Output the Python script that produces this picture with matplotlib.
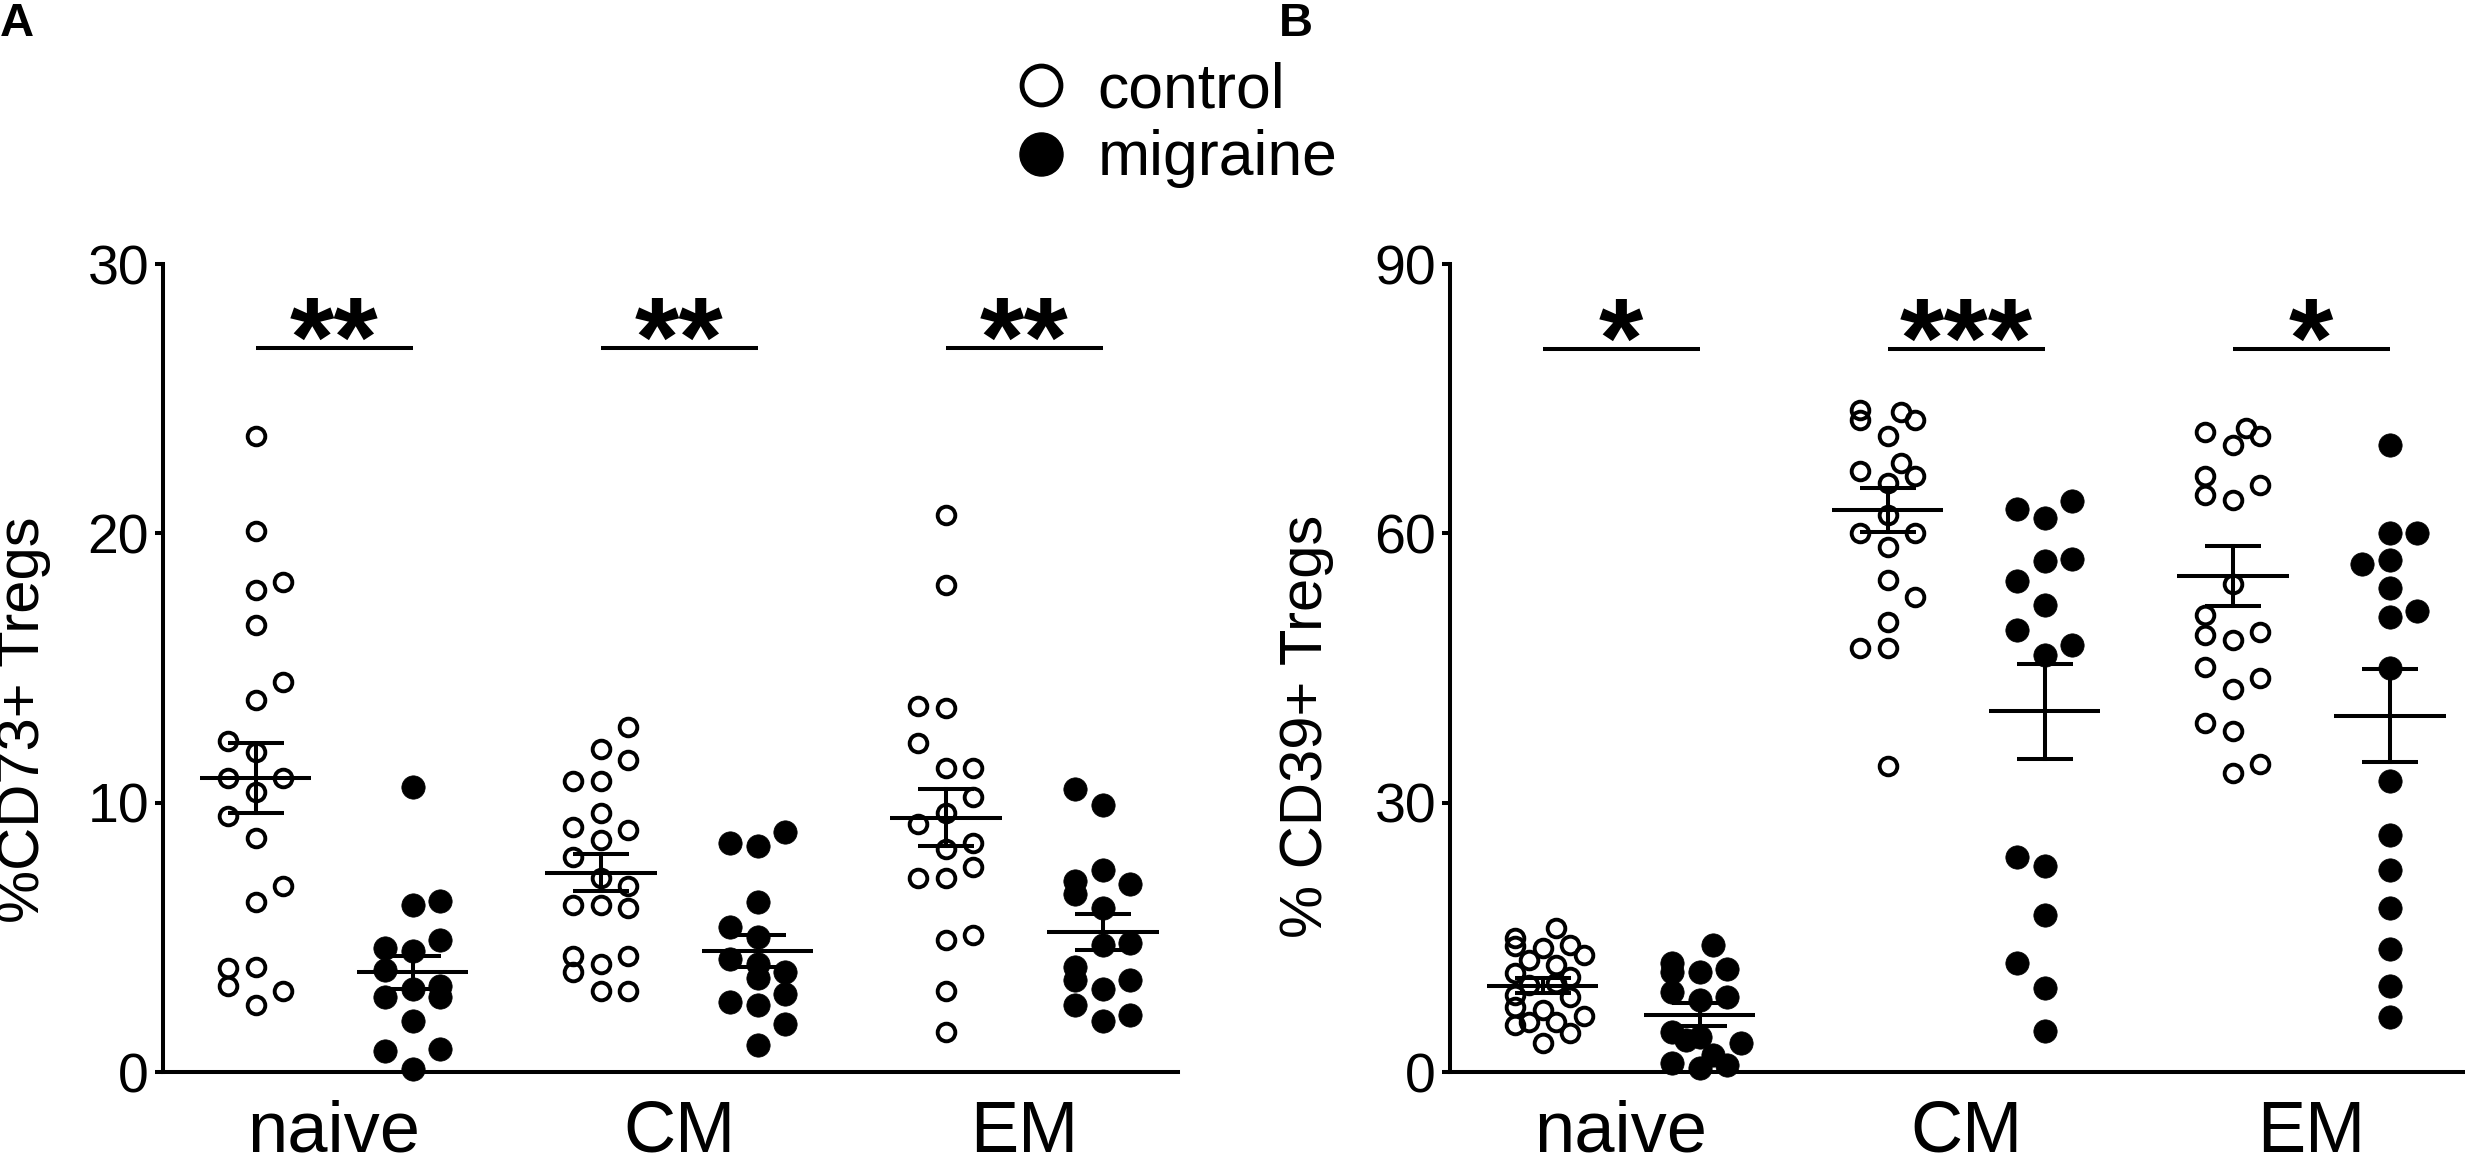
import numpy as np
import matplotlib
matplotlib.use('Agg')
import matplotlib.pyplot as plt
from matplotlib.lines import Line2D

plt.rcParams['font.family'] = ['Liberation Sans', 'DejaVu Sans']

groups = ['naive', 'CM', 'EM']

# panel A: %CD73+ Tregs  (dx = small horizontal jitter steps)
cd73_naive_ctrl = [23.6, 20.1, 17.9, 18.2, 16.6, 14.5, 13.8, 12.3, 11.9, 10.9, 10.9,
                   10.4, 9.5, 8.7, 6.9, 6.3, 3.85, 3.2, 3.9, 2.5, 3.0]
cd73_naive_ctrl_dx = [0, 0, 0, 2, 0, 2, 0, -2, 0, -2, 2, 0, -2, 0, 2, 0, -2, -2, 0, 0, 2]
cd73_naive_mig = [10.6, 6.2, 6.35, 4.9, 4.6, 4.5, 3.8, 3.1, 3.2, 2.8, 2.8, 1.9, 0.8, 0.85, 0.1]
cd73_naive_mig_dx = [0, 0, 2, 2, -2, 0, -2, 0, 2, -2, 2, 0, -2, 2, 0]
cd73_cm_ctrl = [12.8, 12.0, 11.6, 10.8, 10.8, 9.6, 9.0, 9.1, 8.6, 8.0, 7.2, 6.9, 6.2, 6.2,
                6.1, 4.3, 4.0, 4.3, 3.7, 3.0, 3.0]
cd73_cm_ctrl_dx = [2, 0, 2, -2, 0, 0, 2, -2, 0, -2, 0, 2, -2, 0, 2, -2, 0, 2, -2, 0, 2]
cd73_cm_mig = [8.9, 8.5, 8.4, 6.3, 5.4, 5.0, 4.2, 4.0, 3.7, 3.5, 2.9, 2.6, 2.5, 1.8, 1.0]
cd73_cm_mig_dx = [2, -2, 0, 0, -2, 0, -2, 0, 2, 0, 2, -2, 0, 2, 0]
cd73_em_ctrl = [20.7, 18.1, 13.6, 13.5, 12.2, 11.3, 11.3, 10.2, 9.6, 9.2, 8.5, 8.3, 7.6,
                7.2, 7.2, 5.1, 4.9, 3.0, 1.5]
cd73_em_ctrl_dx = [0, 0, -2, 0, -2, 0, 2, 2, 0, -2, 2, 0, 2, -2, 0, 2, 0, 0, 0]
cd73_em_mig = [10.5, 9.9, 7.5, 7.1, 7.0, 6.6, 6.1, 4.7, 4.8, 3.9, 3.4, 3.4, 3.1, 2.5, 2.1, 1.9]
cd73_em_mig_dx = [-2, 0, 0, -2, 2, -2, 0, 0, 2, -2, -2, 2, 0, -2, 2, 0]
cd73_mean_ctrl = [10.9, 7.4, 9.45]
cd73_sem_ctrl = [1.3, 0.68, 1.05]
cd73_mean_mig = [3.7, 4.5, 5.2]
cd73_sem_mig = [0.6, 0.6, 0.65]
cd73_stars = ['**', '**', '**']

# panel B: % CD39+ Tregs
cd39_naive_ctrl = [14.9, 14.0, 16.0, 13.8, 14.1, 13.0, 12.5, 11.9, 11.0, 10.6, 9.7, 9.9,
                   8.6, 8.4, 7.3, 6.9, 5.6, 5.2, 5.6, 6.2, 4.3, 3.2]
cd39_naive_ctrl_dx = [-2, -2, 1, 0, 2, 3, -1, 1, -2, 2, -1, 1, -2, 2, -2, 0, -1, -2, 1, 3, 2, 0]
cd39_naive_mig = [14.1, 12.1, 11.2, 11.2, 11.5, 8.9, 8.0, 8.4, 4.5, 3.9, 3.6, 3.2, 1.0, 1.9, 0.5, 0.8]
cd39_naive_mig_dx = [1, -2, -2, 0, 2, -2, 0, 2, -2, 0, -1, 3, -2, 1, 0, 2]
cd39_cm_ctrl = [73.7, 72.6, 66.9, 60.0, 47.2, 70.9, 65.6, 62.0, 58.5, 54.8, 50.1, 47.2,
                34.1, 73.5, 72.6, 67.8, 66.4, 60.0, 52.9]
cd39_cm_ctrl_dx = [-2, -2, -2, -2, -2, 0, 0, 0, 0, 0, 0, 0, 0, 1, 2, 1, 2, 2, 2]
cd39_cm_mig = [62.7, 61.7, 63.6, 56.9, 57.1, 54.7, 52.0, 49.2, 47.6, 46.4, 23.9, 23.0,
               17.5, 12.2, 9.4, 4.6]
cd39_cm_mig_dx = [-2, 0, 2, 0, 2, -2, 0, -2, 2, 0, -2, 0, 0, -2, 0, 0]
cd39_em_ctrl = [71.3, 71.7, 70.9, 69.8, 66.4, 64.3, 65.4, 63.7, 54.4, 50.9, 48.7, 48.1,
                49.0, 45.1, 42.7, 43.9, 38.9, 38.0, 34.3, 33.3]
cd39_em_ctrl_dx = [-2, 1, 2, 0, -2, -2, 2, 0, 0, -2, -2, 0, 2, -2, 0, 2, -2, 0, 2, 0]
cd39_em_mig = [69.8, 60.0, 60.0, 56.6, 57.0, 53.9, 50.7, 51.3, 45.0, 32.4, 26.4, 22.5,
               18.3, 13.7, 9.6, 6.1]
cd39_em_mig_dx = [0, 0, 2, -2, 0, 0, 0, 2, 0, 0, 0, 0, 0, 0, 0, 0]
cd39_mean_ctrl = [9.6, 62.6, 55.3]
cd39_sem_ctrl = [0.85, 2.5, 3.35]
cd39_mean_mig = [6.4, 40.2, 39.7]
cd39_sem_mig = [1.25, 5.3, 5.2]
cd39_stars = ['*', '***', '*']

OFF = 0.2275     # control / migraine column offset from group centre
STEP = 0.04      # jitter step
MEAN_HW = 0.162
CAP_HW = 0.081
LW = 2.9


def panel(ax, ctrl, ctrl_dx, mig, mig_dx, mean_c, sem_c, mean_m, sem_m,
          stars, ymax, ystep, bar_y, ylabel):
    for g in range(3):
        xc = g - OFF
        xm = g + OFF
        ax.plot(xc + np.array(ctrl_dx[g]) * STEP, ctrl[g], 'o', ms=12.7, mfc='none',
                mec='black', mew=2.8, ls='none', clip_on=False, zorder=2)
        ax.plot(xm + np.array(mig_dx[g]) * STEP, mig[g], 'o', ms=16.8, mfc='black',
                mec='black', mew=0.5, ls='none', clip_on=False, zorder=2)
        for x, m, s in [(xc, mean_c[g], sem_c[g]), (xm, mean_m[g], sem_m[g])]:
            ax.plot([x - MEAN_HW, x + MEAN_HW], [m, m], color='black', lw=LW, zorder=3,
                    solid_capstyle='butt')
            ax.plot([x, x], [m - s, m + s], color='black', lw=LW, zorder=3)
            for yy in (m - s, m + s):
                ax.plot([x - CAP_HW, x + CAP_HW], [yy, yy], color='black', lw=LW,
                        zorder=3, solid_capstyle='butt')
        # significance bar
        ax.plot([xc, xm], [bar_y, bar_y], color='black', lw=LW, solid_capstyle='butt',
                clip_on=False)
        ax.annotate(stars[g], (g, bar_y), xytext=(0, -20), textcoords='offset points',
                    ha='center', va='baseline', fontsize=82, fontweight='bold',
                    annotation_clip=False)

    ax.set_xlim(-0.496, 2.446)
    ax.set_ylim(0, ymax)
    ax.set_yticks(np.arange(0, ymax + 1, ystep))
    ax.set_xticks(range(3))
    ax.set_xticklabels(groups, fontsize=52)
    ax.tick_params(axis='x', length=0, pad=20)
    ax.tick_params(axis='y', length=6, width=LW, labelsize=40, pad=4)
    for sp in ['top', 'right']:
        ax.spines[sp].set_visible(False)
    for sp in ['left', 'bottom']:
        ax.spines[sp].set_linewidth(LW)
    ax.set_ylabel(ylabel, fontsize=43, va='center')


fig = plt.figure(figsize=(24.65, 11.71), dpi=100)
axA = fig.add_axes([0.0661, 0.0845, 0.4118, 0.690])
axB = fig.add_axes([0.5882, 0.0845, 0.4118, 0.690])

panel(axA,
      [cd73_naive_ctrl, cd73_cm_ctrl, cd73_em_ctrl],
      [cd73_naive_ctrl_dx, cd73_cm_ctrl_dx, cd73_em_ctrl_dx],
      [cd73_naive_mig, cd73_cm_mig, cd73_em_mig],
      [cd73_naive_mig_dx, cd73_cm_mig_dx, cd73_em_mig_dx],
      cd73_mean_ctrl, cd73_sem_ctrl, cd73_mean_mig, cd73_sem_mig,
      cd73_stars, 30, 10, 26.9, '%CD73+ Tregs')
axA.yaxis.set_label_coords(-0.137, 0.436)

panel(axB,
      [cd39_naive_ctrl, cd39_cm_ctrl, cd39_em_ctrl],
      [cd39_naive_ctrl_dx, cd39_cm_ctrl_dx, cd39_em_ctrl_dx],
      [cd39_naive_mig, cd39_cm_mig, cd39_em_mig],
      [cd39_naive_mig_dx, cd39_cm_mig_dx, cd39_em_mig_dx],
      cd39_mean_ctrl, cd39_sem_ctrl, cd39_mean_mig, cd39_sem_mig,
      cd39_stars, 90, 30, 80.5, '% CD39+ Tregs')
axB.yaxis.set_label_coords(-0.141, 0.428)

# legend
handles = [Line2D([], [], marker='o', ls='none', ms=28, mfc='none', mec='black', mew=3.5),
           Line2D([], [], marker='o', ls='none', ms=31, mfc='black', mec='black')]
fig.legend(handles, ['control', 'migraine'], loc='upper left',
           bbox_to_anchor=(1010 / 2465, 1 - 61 / 1171), frameon=False, fontsize=45,
           handlelength=1.0, handletextpad=0.4, labelspacing=0.15, borderpad=0,
           borderaxespad=0)

fig.text(0.0, 1 - 2 / 1171, 'A', fontsize=34, fontweight='bold', va='top', ha='left')
fig.text(1279 / 2465, 1 - 2 / 1171, 'B', fontsize=34, fontweight='bold', va='top', ha='left')

fig.savefig('out.png', dpi=100)
